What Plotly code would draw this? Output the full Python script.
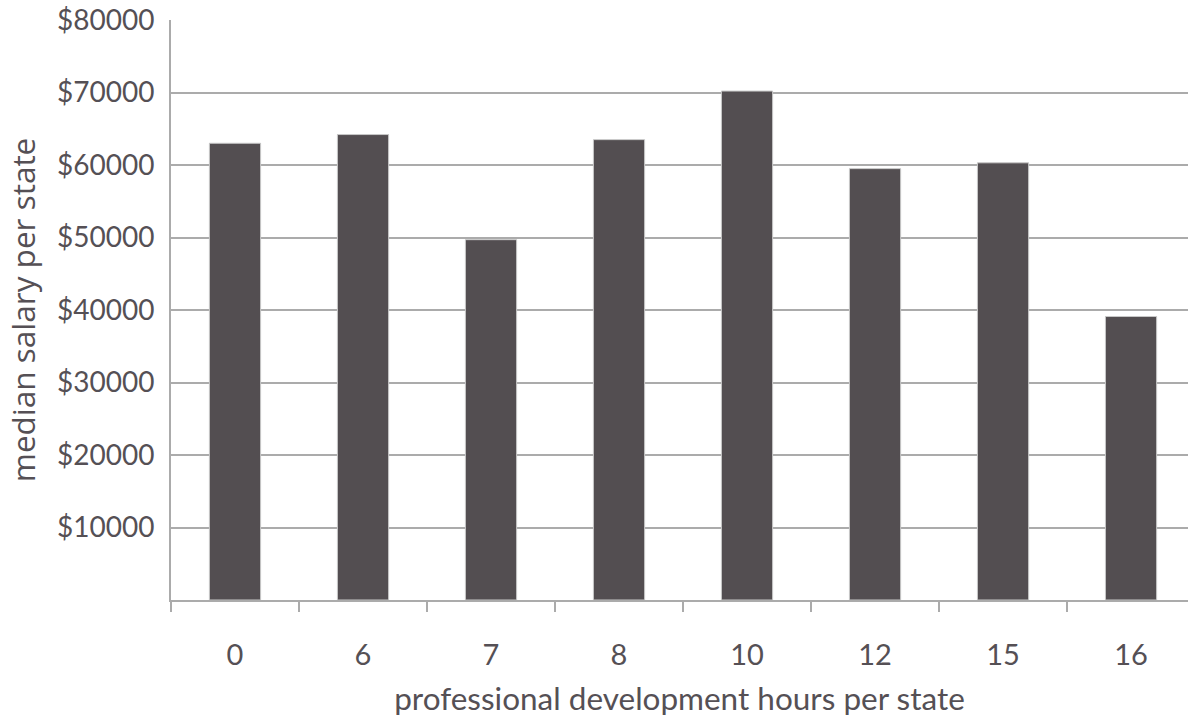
import plotly.graph_objects as go

# Professional development hours (category labels) and median salary per state
hours = ["0", "6", "7", "8", "10", "12", "15", "16"]
median_salary = [63000, 64200, 49700, 63500, 70200, 59500, 60300, 39100]
salary_ticks = [10000, 20000, 30000, 40000, 50000, 60000, 70000, 80000]
salary_tick_labels = [f"${v}" for v in salary_ticks]

BAR_COLOR = "#534E51"
GRID_COLOR = "#ABABAB"
TEXT_COLOR = "#555055"

fig = go.Figure(
    go.Bar(
        x=hours,
        y=median_salary,
        width=0.4,
        marker=dict(color=BAR_COLOR, line=dict(color="#C8C8C8", width=1)),
    )
)

fig.update_layout(
    width=1188,
    height=717,
    margin=dict(l=171, r=0, t=20, b=117),
    paper_bgcolor="white",
    plot_bgcolor="white",
    showlegend=False,
    font=dict(family="Lato, sans-serif", color=TEXT_COLOR),
)

fig.update_xaxes(
    type="category",
    range=[-0.5, 7.445],
    tickson="boundaries",
    ticks="outside",
    ticklen=10,
    tickwidth=2,
    tickcolor=GRID_COLOR,
    showline=True,
    linecolor=GRID_COLOR,
    linewidth=2,
    showgrid=False,
    tickfont=dict(family="Lato, sans-serif", size=29, color=TEXT_COLOR),
    ticklabelstandoff=28,
    title=dict(
        text="professional development hours per state",
        font=dict(family="Lato, sans-serif", size=31.5, color=TEXT_COLOR),
        standoff=18,
    ),
)

fig.update_yaxes(
    range=[0, 80000],
    tickmode="array",
    tickvals=salary_ticks,
    ticktext=salary_tick_labels,
    showgrid=True,
    gridcolor=GRID_COLOR,
    gridwidth=2,
    showline=True,
    linecolor=GRID_COLOR,
    linewidth=2,
    zeroline=False,
    ticks="",
    ticklabelstandoff=9,
    tickfont=dict(family="Lato, sans-serif", size=28, color=TEXT_COLOR),
    title=dict(
        text="median salary per state",
        font=dict(family="Open Sans, sans-serif", size=31.5, color=TEXT_COLOR),
        standoff=12,
    ),
)

fig.write_html("out.html")
